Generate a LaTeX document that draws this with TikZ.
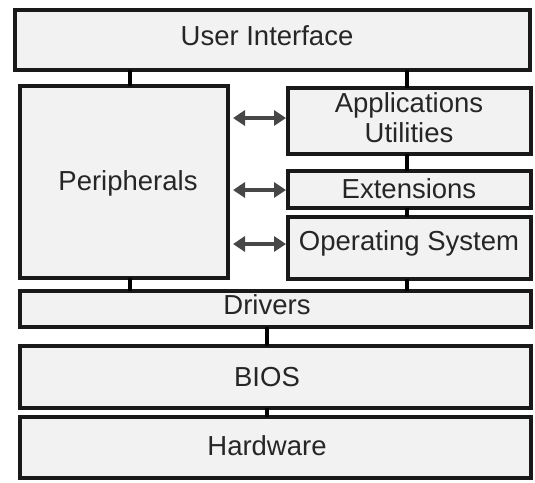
\documentclass[tikz,border=0pt]{standalone}
\usepackage{fontspec}
\setmainfont{Liberation Sans}
\usetikzlibrary{arrows.meta}
\begin{document}
\begin{tikzpicture}[x=1pt,y=-1pt,
  layer/.style={draw=black!90,line width=3.2pt,fill=black!5},
  lbl/.style={font=\fontsize{27.5}{30}\selectfont,text=black!85,align=center,inner sep=0pt},
  link/.style={line width=4pt,black},
  dbl/.style={line width=3.6pt,draw=black!72,{Triangle[length=12pt,width=15pt]}-{Triangle[length=12pt,width=15pt]}}]
\useasboundingbox (0,0) rectangle (535,482);
% boxes
\path[layer] (15,10) rectangle (530,70);
\node[lbl] (ui) at (267,36) {User Interface};
\path[layer] (20,86) rectangle (228,278);
\node[lbl] (per) at (128,183) {Peripherals};
\path[layer] (288,88) rectangle (531,154);
\node[lbl] (app) at (409,118) {Applications\\Utilities};
\path[layer] (288,171) rectangle (531,208);
\node[lbl] (ext) at (409,189) {Extensions};
\path[layer] (288,217) rectangle (531,279);
\node[lbl] (os) at (409,243) {Operating System};
\path[layer] (20,291) rectangle (531,327);
\node[lbl] (drv) at (267,305) {Drivers};
\path[layer] (20,346) rectangle (531,408);
\node[lbl] (bios) at (267,377) {BIOS};
\path[layer] (20,417) rectangle (531,478);
\node[lbl] (hw) at (267,446) {Hardware};
% named anchor coordinates
\coordinate (uiL) at (130,70); \coordinate (perT) at (130,86);
\coordinate (uiR) at (407,70); \coordinate (appT) at (407,88);
\coordinate (appB) at (407,154); \coordinate (extT) at (407,171);
\coordinate (extB) at (407,208); \coordinate (osT) at (407,217);
\coordinate (perB) at (130,278); \coordinate (drvTL) at (130,291);
\coordinate (osB) at (407,279); \coordinate (drvTR) at (407,291);
\coordinate (drvB) at (267,327); \coordinate (biosT) at (267,346);
\coordinate (biosB) at (267,408); \coordinate (hwT) at (267,417);
\coordinate (a1l) at (233,118); \coordinate (a1r) at (286,118);
\coordinate (a2l) at (233,190); \coordinate (a2r) at (286,190);
\coordinate (a3l) at (233,244); \coordinate (a3r) at (286,244);
% connectors
\draw[link] (uiL) -- (perT);
\draw[link] (uiR) -- (appT);
\draw[link] (appB) -- (extT);
\draw[link] (extB) -- (osT);
\draw[link] (perB) -- (drvTL);
\draw[link] (osB) -- (drvTR);
\draw[link] (drvB) -- (biosT);
\draw[link] (biosB) -- (hwT);
\draw[dbl] (a1l) -- (a1r);
\draw[dbl] (a2l) -- (a2r);
\draw[dbl] (a3l) -- (a3r);
\end{tikzpicture}
\end{document}
